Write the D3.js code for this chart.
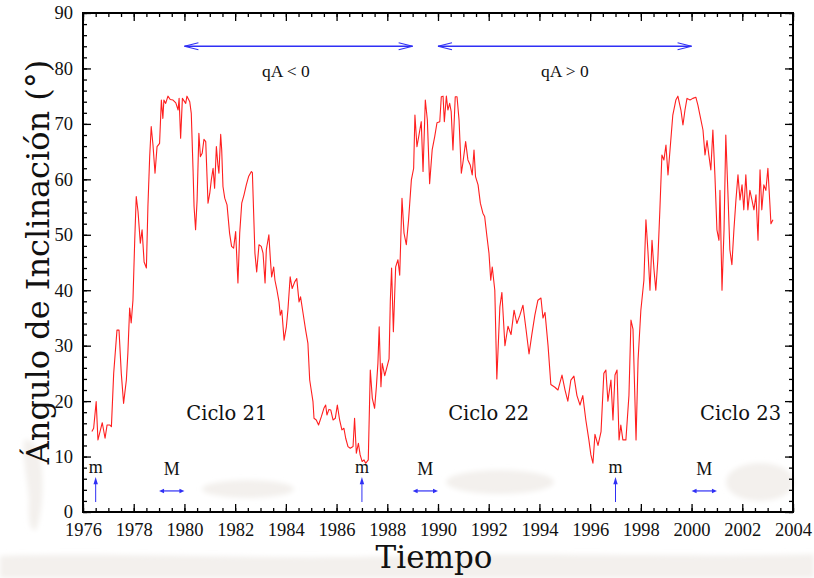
<!DOCTYPE html>
<html>
<head>
<meta charset="utf-8">
<script src="https://cdn.jsdelivr.net/npm/d3@7"></script>
<style>
  html, body { margin: 0; padding: 0; background: #ffffff; }
  svg { display: block; }
</style>
</head>
<body>
<svg id="chart" width="814" height="578"></svg>
<script>
// Tilt angle of the heliospheric current sheet, solar cycles 21-23
const years = [
  1976.35, 1976.42, 1976.52, 1976.59, 1976.76, 1976.87, 1976.95, 1977.05, 1977.12, 1977.21,
  1977.34, 1977.42, 1977.51, 1977.60, 1977.71, 1977.77, 1977.84, 1977.90, 1977.97, 1978.04,
  1978.10, 1978.17, 1978.26, 1978.33, 1978.41, 1978.50, 1978.56, 1978.63, 1978.69, 1978.76,
  1978.84, 1978.92, 1979.02, 1979.09, 1979.15, 1979.19, 1979.26, 1979.35, 1979.44, 1979.55,
  1979.66, 1979.75, 1979.79, 1979.85, 1979.92, 1980.05, 1980.10, 1980.21, 1980.27, 1980.34,
  1980.38, 1980.44, 1980.50, 1980.57, 1980.63, 1980.70, 1980.77, 1980.84, 1980.93, 1981.00,
  1981.06, 1981.13, 1981.19, 1981.26, 1981.32, 1981.36, 1981.43, 1981.47, 1981.52, 1981.59,
  1981.68, 1981.78, 1981.86, 1981.94, 1982.02, 1982.11, 1982.18, 1982.26, 1982.35, 1982.44,
  1982.53, 1982.64, 1982.68, 1982.73, 1982.78, 1982.85, 1982.94, 1983.03, 1983.10, 1983.18,
  1983.23, 1983.33, 1983.39, 1983.44, 1983.52, 1983.57, 1983.65, 1983.73, 1983.78, 1983.84,
  1983.93, 1984.02, 1984.08, 1984.17, 1984.25, 1984.35, 1984.43, 1984.52, 1984.58, 1984.68,
  1984.78, 1984.87, 1984.94, 1985.00, 1985.07, 1985.11, 1985.20, 1985.29, 1985.40, 1985.50,
  1985.57, 1985.62, 1985.70, 1985.77, 1985.86, 1985.95, 1986.03, 1986.12, 1986.21, 1986.29,
  1986.36, 1986.45, 1986.54, 1986.65, 1986.71, 1986.78, 1986.86, 1986.93, 1987.01, 1987.08,
  1987.15, 1987.25, 1987.33, 1987.41, 1987.50, 1987.57, 1987.63, 1987.68, 1987.75, 1987.80,
  1987.90, 1988.07, 1988.12, 1988.17, 1988.24, 1988.33, 1988.42, 1988.49, 1988.58, 1988.66,
  1988.75, 1988.84, 1988.95, 1989.04, 1989.09, 1989.17, 1989.25, 1989.34, 1989.41, 1989.50,
  1989.58, 1989.67, 1989.77, 1989.87, 1989.96, 1990.07, 1990.13, 1990.20, 1990.25, 1990.33,
  1990.39, 1990.46, 1990.52, 1990.59, 1990.68, 1990.75, 1990.83, 1990.92, 1990.98, 1991.09,
  1991.18, 1991.27, 1991.35, 1991.42, 1991.48, 1991.58, 1991.67, 1991.77, 1991.84, 1991.93,
  1992.01, 1992.08, 1992.14, 1992.24, 1992.32, 1992.44, 1992.52, 1992.64, 1992.76, 1992.88,
  1993.00, 1993.11, 1993.23, 1993.35, 1993.47, 1993.59, 1993.70, 1993.82, 1993.94, 1994.06,
  1994.14, 1994.22, 1994.34, 1994.45, 1994.61, 1994.73, 1994.89, 1995.01, 1995.12, 1995.24,
  1995.36, 1995.48, 1995.60, 1995.71, 1995.83, 1995.95, 1996.03, 1996.11, 1996.19, 1996.31,
  1996.43, 1996.54, 1996.62, 1996.70, 1996.82, 1996.90, 1996.98, 1997.06, 1997.14, 1997.21,
  1997.29, 1997.41, 1997.53, 1997.61, 1997.69, 1997.81, 1997.89, 1998.00, 1998.12, 1998.20,
  1998.28, 1998.36, 1998.44, 1998.52, 1998.59, 1998.67, 1998.75, 1998.83, 1998.91, 1998.99,
  1999.07, 1999.15, 1999.26, 1999.38, 1999.46, 1999.58, 1999.66, 1999.74, 1999.82, 1999.94,
  2000.05, 2000.17, 2000.25, 2000.33, 2000.45, 2000.53, 2000.61, 2000.68, 2000.76, 2000.84,
  2000.92, 2001.00, 2001.08, 2001.12, 2001.20, 2001.28, 2001.35, 2001.43, 2001.51, 2001.59,
  2001.67, 2001.75, 2001.83, 2001.91, 2001.99, 2002.06, 2002.14, 2002.22, 2002.30, 2002.38,
  2002.46, 2002.54, 2002.62, 2002.70, 2002.77, 2002.85, 2002.93, 2003.01, 2003.09, 2003.13,
  2003.21
];

const tilt = [
  14.5, 15.1, 19.9, 13.0, 16.1, 13.3, 15.7, 15.7, 15.4, 25.0,
  32.8, 32.8, 25.0, 19.6, 23.8, 28.7, 36.8, 34.1, 38.2, 49.0,
  56.9, 54.2, 48.5, 50.9, 45.1, 44.0, 55.1, 64.1, 69.5, 66.2,
  61.1, 65.9, 66.5, 74.3, 71.0, 74.3, 73.7, 75.0, 74.4, 74.3,
  73.8, 72.5, 74.6, 67.4, 74.6, 73.7, 75.0, 74.0, 71.9, 61.7,
  55.1, 50.9, 56.3, 68.3, 64.1, 64.7, 67.2, 66.8, 55.7, 57.5,
  59.9, 62.0, 58.4, 65.9, 62.6, 61.1, 68.1, 65.3, 58.7, 56.6,
  55.4, 50.3, 47.9, 47.6, 50.6, 41.3, 50.3, 55.7, 57.2, 59.0,
  60.5, 61.4, 61.2, 53.9, 46.7, 43.3, 48.2, 47.9, 46.7, 41.3,
  47.3, 50.0, 45.5, 42.4, 44.2, 41.8, 40.0, 37.9, 35.5, 36.4,
  31.0, 33.4, 36.4, 42.4, 40.3, 41.5, 42.1, 37.9, 38.8, 35.8,
  32.8, 30.4, 23.8, 22.0, 19.9, 16.9, 16.6, 15.7, 17.2, 18.7,
  19.3, 17.5, 18.5, 18.4, 16.6, 16.9, 19.3, 16.6, 14.8, 15.1,
  13.3, 11.8, 11.5, 11.8, 16.9, 10.6, 12.4, 10.3, 9.1, 9.4,
  8.8, 9.4, 25.6, 20.5, 18.7, 22.6, 26.8, 33.4, 22.6, 26.8,
  24.6, 27.6, 38.2, 44.0, 32.5, 44.2, 45.5, 42.7, 56.6, 50.3,
  48.2, 52.7, 59.9, 62.0, 71.6, 65.9, 68.0, 70.4, 61.4, 74.3,
  70.7, 59.2, 65.3, 67.7, 70.2, 70.4, 74.9, 75.0, 70.4, 75.0,
  72.5, 73.7, 72.2, 65.3, 74.9, 74.9, 70.7, 61.1, 62.9, 66.8,
  63.5, 62.6, 60.8, 65.3, 60.5, 59.0, 55.7, 53.9, 53.3, 49.7,
  46.7, 41.8, 44.2, 40.0, 24.0, 37.0, 39.6, 30.0, 33.5, 32.0,
  36.4, 34.0, 35.5, 37.3, 33.0, 28.5, 32.0, 35.5, 38.2, 38.6,
  35.0, 36.0, 30.0, 23.0, 22.5, 22.0, 24.7, 22.0, 20.0, 23.8,
  24.5, 21.0, 19.3, 21.0, 16.6, 13.0, 10.3, 8.8, 14.0, 12.0,
  14.5, 25.0, 25.6, 20.0, 23.8, 16.6, 24.7, 25.6, 13.0, 15.7,
  13.0, 13.0, 21.0, 34.6, 33.0, 13.0, 27.4, 36.4, 41.8, 52.7,
  47.0, 40.0, 49.0, 43.6, 40.0, 45.5, 54.5, 64.4, 63.5, 66.2,
  60.8, 65.3, 71.6, 74.3, 75.0, 72.5, 69.8, 72.5, 74.6, 74.3,
  74.6, 74.8, 73.4, 71.6, 68.9, 64.4, 67.0, 64.4, 61.7, 68.9,
  60.8, 50.9, 49.0, 58.0, 40.0, 50.9, 68.0, 58.0, 47.3, 44.6,
  50.9, 56.3, 60.8, 56.3, 59.0, 54.5, 60.8, 54.5, 58.0, 56.3,
  54.5, 57.2, 49.0, 61.7, 54.5, 59.0, 58.0, 62.0, 55.4, 52.0,
  52.7
];

// Axis ticks
const xMajorTicks = d3.range(1976, 2005, 2);
const xMinorTicks = d3.range(1976, 2004.01, 0.5);
const yMajorTicks = d3.range(0, 91, 10);
const yMinorTicks = d3.range(0, 90.01, 2);

// Polarity periods (qA sign) drawn as double arrows at the top
const polarityLabels = ["qA < 0", "qA > 0"];
const polarityStart = [1980, 1990];
const polarityEnd = [1989, 2000];
const polarityLabelYears = [1984.0, 1995.0];

// Solar cycle names
const cycleLabels = ["Ciclo 21", "Ciclo 22", "Ciclo 23"];
const cycleYears = [1981.67, 1992.0, 2001.93];

// Solar minima (m) and maxima (M)
const minimumYears = [1976.5, 1987.0, 1997.0];
const maximumStart = [1979, 1989, 2000];
const maximumEnd = [1980, 1990, 2001];

const W = 814, H = 578;
const margin = { left: 83, right: 21, top: 13, bottom: 66 };

const svg = d3.select("#chart");

const x = d3.scaleLinear().domain([1976, 2004]).range([margin.left, W - margin.right]);
const y = d3.scaleLinear().domain([0, 90]).range([H - margin.bottom, margin.top]);

// Faint smudges on the paper background
const defs = svg.append("defs");
defs.append("filter").attr("id", "soft")
  .attr("x", "-20%").attr("y", "-50%").attr("width", "140%").attr("height", "200%")
  .append("feGaussianBlur").attr("stdDeviation", 2.5);

const smudge = svg.append("g").attr("fill", "#f3f0ed").attr("filter", "url(#soft)");
smudge.append("path").attr("d", "M0,556 C120,552 260,560 400,556 C560,552 700,558 814,554 L814,578 L0,578 Z");
smudge.append("path").attr("d", "M24,440 C30,438 40,445 42,470 C44,500 40,520 36,530 C30,532 28,520 29,500 C28,480 22,460 24,440 Z");
smudge.append("ellipse").attr("cx", 248).attr("cy", 489).attr("rx", 46).attr("ry", 9);
smudge.append("ellipse").attr("cx", 500).attr("cy", 482).attr("rx", 54).attr("ry", 12);
smudge.append("ellipse").attr("cx", 760).attr("cy", 482).attr("rx", 34).attr("ry", 19);

// Plot frame and inward ticks on all four sides
const plot = svg.append("g");
const serif = "'Liberation Serif', 'Times New Roman', serif";

function styleAxis(g) {
  g.select(".domain").remove();
  g.selectAll(".tick line").attr("stroke", "#000").attr("stroke-width", 1.3);
  g.selectAll(".tick text")
    .attr("font-family", serif)
    .attr("font-size", 18.5)
    .attr("fill", "#111");
}

const fmtYear = d3.format("d");

plot.append("g").attr("transform", `translate(0,${y(0)})`)
  .call(d3.axisBottom(x).tickValues(xMinorTicks).tickSize(-4).tickFormat(""))
  .call(styleAxis);
plot.append("g").attr("transform", `translate(0,${y(0)})`)
  .call(d3.axisBottom(x).tickValues(xMajorTicks).tickSize(-8).tickPadding(11).tickFormat(fmtYear))
  .call(styleAxis);
plot.append("g").attr("transform", `translate(0,${y(90)})`)
  .call(d3.axisTop(x).tickValues(xMinorTicks).tickSize(-4).tickFormat(""))
  .call(styleAxis);
plot.append("g").attr("transform", `translate(0,${y(90)})`)
  .call(d3.axisTop(x).tickValues(xMajorTicks).tickSize(-8).tickFormat(""))
  .call(styleAxis);

plot.append("g").attr("transform", `translate(${x(1976)},0)`)
  .call(d3.axisLeft(y).tickValues(yMinorTicks).tickSize(-4).tickFormat(""))
  .call(styleAxis);
plot.append("g").attr("transform", `translate(${x(1976)},0)`)
  .call(d3.axisLeft(y).tickValues(yMajorTicks).tickSize(-8).tickPadding(10).tickFormat(d3.format("d")))
  .call(styleAxis);
plot.append("g").attr("transform", `translate(${x(2004)},0)`)
  .call(d3.axisRight(y).tickValues(yMinorTicks).tickSize(-4).tickFormat(""))
  .call(styleAxis);
plot.append("g").attr("transform", `translate(${x(2004)},0)`)
  .call(d3.axisRight(y).tickValues(yMajorTicks).tickSize(-8).tickFormat(""))
  .call(styleAxis);

plot.append("rect")
  .attr("x", x(1976)).attr("y", y(90))
  .attr("width", x(2004) - x(1976)).attr("height", y(0) - y(90))
  .attr("fill", "none").attr("stroke", "#000").attr("stroke-width", 2);

// Tilt angle curve
const series = years.map((t, i) => [t, tilt[i]]);
svg.append("path")
  .datum(series)
  .attr("fill", "none")
  .attr("stroke", "#ff1f1f")
  .attr("stroke-width", 1.1)
  .attr("stroke-linejoin", "round")
  .attr("d", d3.line().x(d => x(d[0])).y(d => y(d[1])));

const blue = "#2f2ff5";
const notes = svg.append("g");

// Open chevron head at (px, py) pointing in direction dir (+1 right, -1 left)
function chevron(g, px, py, dir, len, half) {
  g.append("path")
    .attr("d", `M${px - dir * len},${py - half} L${px},${py} L${px - dir * len},${py + half}`)
    .attr("fill", "none").attr("stroke", blue).attr("stroke-width", 1.2);
}

// Polarity arrows
polarityLabels.forEach((lab, i) => {
  const yy = y(84);
  const x0 = x(polarityStart[i]), x1 = x(polarityEnd[i]);
  notes.append("line").attr("x1", x0).attr("x2", x1).attr("y1", yy).attr("y2", yy)
    .attr("stroke", blue).attr("stroke-width", 1.3);
  chevron(notes, x0, yy, -1, 14, 3.5);
  chevron(notes, x1, yy, 1, 14, 3.5);
  notes.append("text")
    .attr("x", x(polarityLabelYears[i]))
    .attr("y", y(78.5))
    .attr("text-anchor", "middle")
    .attr("font-family", serif).attr("font-size", 17.5).attr("fill", "#111")
    .text(lab);
});

// Cycle labels
cycleLabels.forEach((lab, i) => {
  notes.append("text")
    .attr("x", x(cycleYears[i])).attr("y", y(16.6))
    .attr("text-anchor", "middle")
    .attr("font-family", "'DejaVu Serif', serif").attr("font-size", 19.5).attr("fill", "#111")
    .text(lab);
});

// Solar minima markers
minimumYears.forEach(t => {
  const xx = x(t);
  notes.append("line").attr("x1", xx).attr("x2", xx).attr("y1", y(1.8)).attr("y2", y(5.6))
    .attr("stroke", blue).attr("stroke-width", 1);
  notes.append("path")
    .attr("d", `M${xx},${y(6.3)} L${xx - 2.2},${y(5.0)} L${xx + 2.2},${y(5.0)} Z`)
    .attr("fill", blue);
  notes.append("text")
    .attr("x", xx).attr("y", y(7.0))
    .attr("text-anchor", "middle")
    .attr("font-family", serif).attr("font-size", 18).attr("fill", "#111")
    .text("m");
});

// Solar maxima markers
maximumStart.forEach((t0, i) => {
  const t1 = maximumEnd[i];
  const yy = y(3.8);
  const x0 = x(t0), x1 = x(t1);
  notes.append("line").attr("x1", x0 + 3).attr("x2", x1 - 3).attr("y1", yy).attr("y2", yy)
    .attr("stroke", blue).attr("stroke-width", 1.2);
  notes.append("path").attr("d", `M${x0},${yy} L${x0 + 5},${yy - 2.3} L${x0 + 5},${yy + 2.3} Z`).attr("fill", blue);
  notes.append("path").attr("d", `M${x1},${yy} L${x1 - 5},${yy - 2.3} L${x1 - 5},${yy + 2.3} Z`).attr("fill", blue);
  notes.append("text")
    .attr("x", (x0 + x1) / 2).attr("y", y(6.6))
    .attr("text-anchor", "middle")
    .attr("font-family", serif).attr("font-size", 18).attr("fill", "#111")
    .text("M");
});

// Axis titles
svg.append("text")
  .attr("x", 434).attr("y", 568)
  .attr("text-anchor", "middle")
  .attr("font-family", "'DejaVu Serif', serif").attr("font-size", 31).attr("fill", "#111")
  .text("Tiempo");

svg.append("text")
  .attr("transform", "translate(49,262) rotate(-90)")
  .attr("text-anchor", "middle")
  .attr("font-family", "'DejaVu Serif', serif").attr("font-size", 32).attr("fill", "#111")
  .text("Ángulo de Inclinación (°)");
</script>
</body>
</html>
